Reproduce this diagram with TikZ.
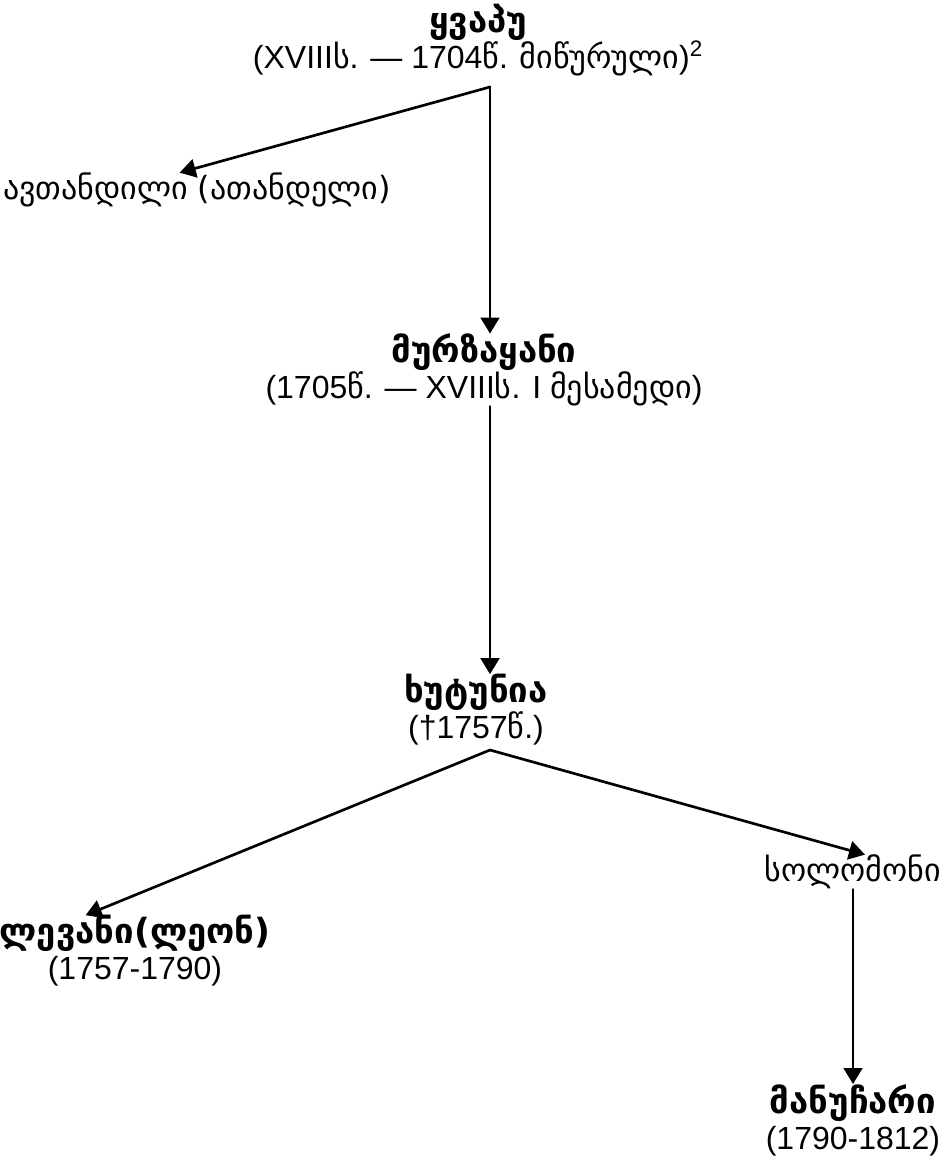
\documentclass[tikz,border=0pt]{standalone}
\usepackage{fontspec}
\setmainfont{Liberation Sans}
\newfontfamily\geofont{DejaVu Sans}
\usetikzlibrary{arrows.meta}
\newcommand{\ka}[1]{{\geofont #1}}
\newcommand{\kab}[1]{{\geofont\bfseries\fontsize{26}{27}\selectfont #1}}

\begin{document}
\begin{tikzpicture}[line cap=round,line join=round,>={Triangle[length=12pt,width=14pt]},x=0.75pt,y=-0.75pt,
  person/.style={align=center,inner sep=0pt,font=\fontsize{24}{27}\selectfont},
  link/.style={->,line width=2pt}]
\useasboundingbox (0,0) rectangle (952,1157);
% people
\node[person] (kvapu) at (478,40) {\kab{ყვაპუ}\\(XVIII\ka{ს}. — 1704\ka{წ}. \ka{მიწურული})\textsuperscript{2}};
\node[person] (avtandili) at (197,190) {\ka{ავთანდილი (ათანდელი)}};
\node[person] (murzakani) at (484,370) {\kab{მურზაყანი}\\(1705\ka{წ}. — XVIII\ka{ს}. I \ka{მესამედი})};
\node[person] (khutunia) at (476,710) {\kab{ხუტუნია}\\(†1757\ka{წ}.)};
\node[person] (levani) at (135,951) {\kab{ლევანი(ლეონ)}\\(1757-1790)};
\node[person] (solomoni) at (853,872) {\ka{სოლომონი}};
\node[person] (manuchari) at (853,1120) {\kab{მანუჩარი}\\(1790-1812)};
% links
\coordinate (j1) at (490,87);
\coordinate (j2) at (490,750);
\draw[link] (j1) -- ([xshift=-13pt]avtandili.north);
\draw[link] (j1) -- (j1 |- murzakani.north);
\draw[link] (murzakani.south -| j1) -- (khutunia.north -| j1);
\draw[link] (j2) -- ([xshift=-37pt]levani.north);
\draw[link] (j2) -- ([xshift=9pt]solomoni.north);
\draw[link] (solomoni.south) -- (manuchari.north);
\end{tikzpicture}
\end{document}
